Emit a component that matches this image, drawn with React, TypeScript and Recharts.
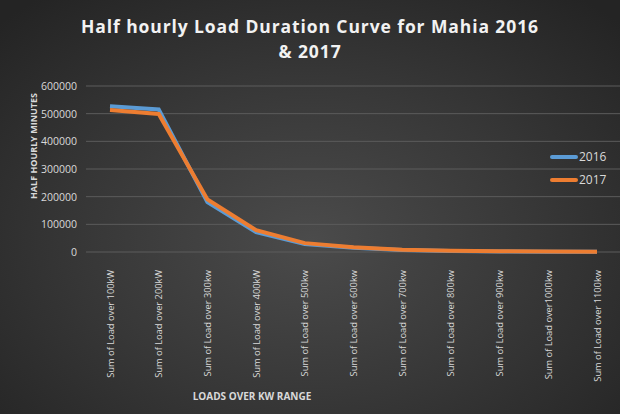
import React from 'react';
import { LineChart, Line, XAxis, YAxis, CartesianGrid, Label } from 'recharts';

const CATEGORIES = [
  'Sum  of Load over 100kW',
  'Sum of Load over 200kW',
  'Sum of Load over 300kw',
  'Sum of Load over 400kW',
  'Sum of Load over 500kw',
  'Sum of Load over 600kw',
  'Sum of Load over 700kw',
  'Sum of Load over 800kw',
  'Sum of Load over 900kw',
  'Sum of Load over1000kw',
  'Sum of Load over 1100kw',
];
const LOAD_2016 = [527000, 515000, 180000, 72000, 29000, 15000, 7000, 4000, 2000, 1000, 500];
const LOAD_2017 = [513000, 499000, 190000, 79000, 32000, 17000, 8500, 4500, 2500, 1500, 800];
const Y_TICKS = [0, 100000, 200000, 300000, 400000, 500000, 600000];

const SERIES = [
  { key: 'y2016', name: '2016', color: '#5b9bd5' },
  { key: 'y2017', name: '2017', color: '#ed7d31' },
];

const FONT = '"Open Sans", sans-serif';
const TEXT = '#d9d9d9';

const data = CATEGORIES.map((c, i) => ({ cat: c, y2016: LOAD_2016[i], y2017: LOAD_2017[i] }));

const XTick: React.FC<any> = ({ x, y, payload }) => (
  <text
    x={x}
    y={y + 10}
    transform={`rotate(-90, ${x}, ${y + 10})`}
    textAnchor="end"
    dominantBaseline="central"
    fill={TEXT}
    fontSize={9.3}
    fontFamily={FONT}
  >
    {payload.value}
  </text>
);

const YTick: React.FC<any> = ({ y, payload }) => (
  <text x={77} y={y} textAnchor="end" dominantBaseline="central" fill={TEXT} fontSize={10.5} fontFamily={FONT}>
    {payload.value}
  </text>
);

const App: React.FC = () => (
  <div
    style={{
      position: 'absolute',
      left: 0,
      top: 0,
      width: 620,
      height: 414,
      background: 'radial-gradient(ellipse 70% 75% at 50% 58%, #4b4b4b 0%, #383838 50%, #242424 100%)',
    }}
  >
    <div
      style={{
        position: 'absolute',
        top: 14,
        width: 620,
        textAlign: 'center',
        color: '#f2f2f2',
        fontFamily: FONT,
        fontWeight: 700,
        fontSize: 17.5,
        letterSpacing: 0.9,
        lineHeight: '25px',
      }}
    >
      Half hourly Load Duration Curve for Mahia 2016
      <br />& 2017
    </div>
    <LineChart width={620} height={414} data={data} margin={{ top: 86, right: 0, left: 0, bottom: 0 }}>
      <CartesianGrid stroke="#5c5c5c" vertical={false} />
      <XAxis
        dataKey="cat"
        interval={0}
        height={162}
        padding={{ left: 24, right: 23 }}
        axisLine={false}
        tickLine={false}
        tick={<XTick />}
      >
        <Label
          content={() => (
            <text x={252} y={396} textAnchor="middle" dominantBaseline="central" fill={TEXT} fontSize={10} fontWeight={700} fontFamily={FONT}>
              LOADS OVER KW RANGE
            </text>
          )}
        />
      </XAxis>
      <YAxis
        width={86}
        domain={[0, 600000]}
        ticks={Y_TICKS}
        interval={0}
        axisLine={false}
        tickLine={false}
        tick={<YTick />}
      >
        <Label
          content={() => (
            <text
              x={33}
              y={146}
              transform="rotate(-90, 33, 146)"
              textAnchor="middle"
              dominantBaseline="central"
              fill={TEXT}
              fontSize={9}
              fontWeight={700}
              fontFamily={FONT}
            >
              HALF HOURLY MINUTES
            </text>
          )}
        />
      </YAxis>
      {SERIES.map(s => (
        <Line
          key={s.key}
          type="linear"
          dataKey={s.key}
          name={s.name}
          stroke={s.color}
          strokeWidth={4}
          dot={false}
          isAnimationActive={false}
        />
      ))}
    </LineChart>
    <div style={{ position: 'absolute', left: 550, top: 145, fontFamily: FONT, fontSize: 12, color: TEXT }}>
      {SERIES.map(s => (
        <div key={s.key} style={{ display: 'flex', alignItems: 'center', height: 23 }}>
          <span style={{ display: 'inline-block', width: 28, height: 4, background: s.color, borderRadius: 2 }} />
          <span style={{ marginLeft: 1 }}>{s.name}</span>
        </div>
      ))}
    </div>
  </div>
);

export default App;
